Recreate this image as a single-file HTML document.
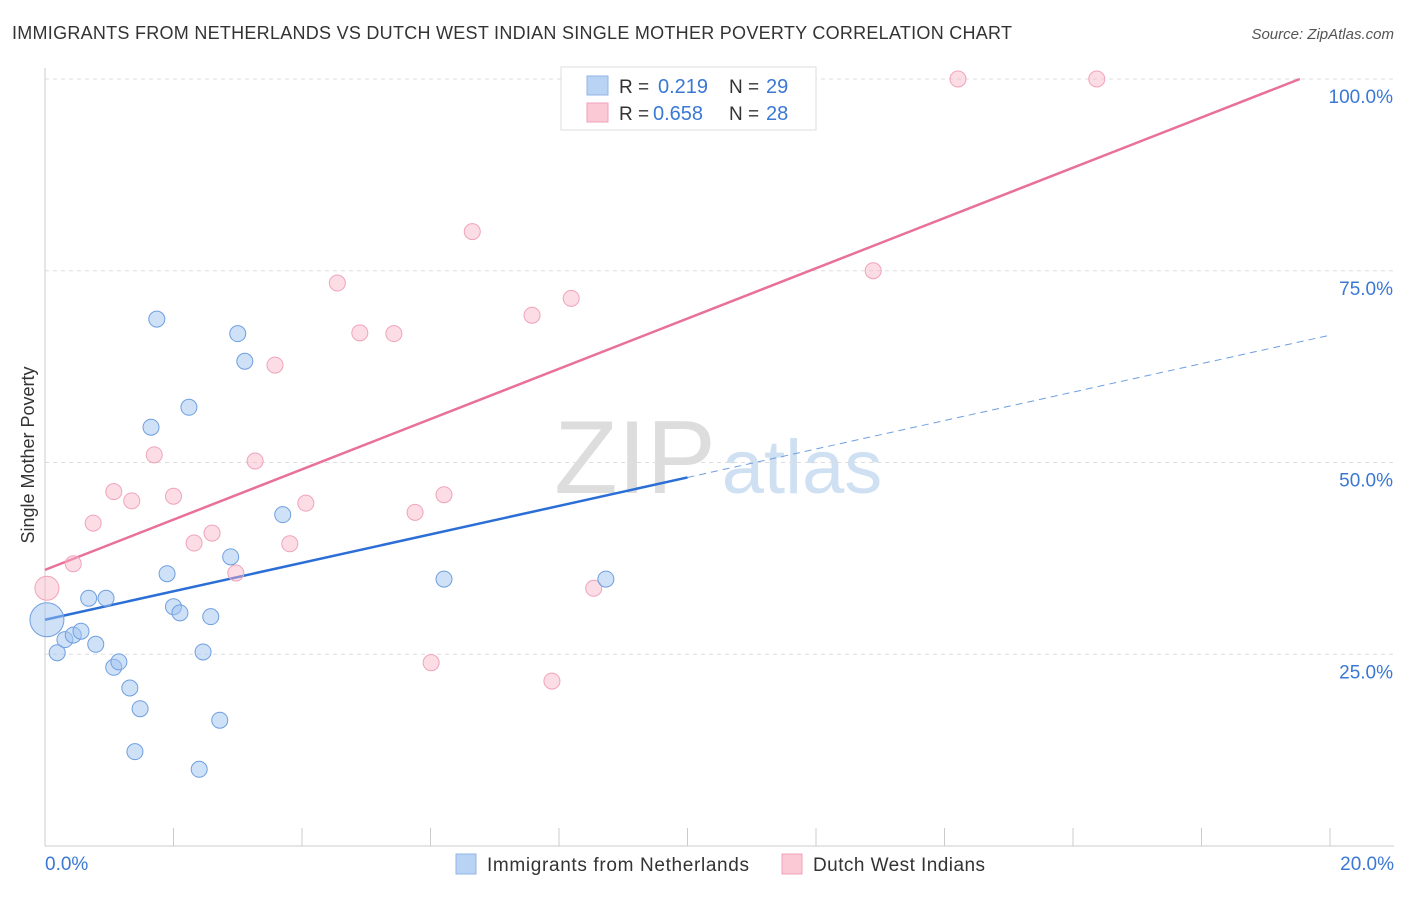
<!DOCTYPE html>
<html><head><meta charset="utf-8">
<style>
body{margin:0;background:#fff;font-family:"Liberation Sans",sans-serif;}
svg text{font-family:"Liberation Sans",sans-serif;}
</style></head>
<body>
<svg id="chart" width="1406" height="892" xmlns="http://www.w3.org/2000/svg">
<text x="12" y="39" font-size="18" fill="#333" textLength="1000">IMMIGRANTS FROM NETHERLANDS VS DUTCH WEST INDIAN SINGLE MOTHER POVERTY CORRELATION CHART</text>
<text x="1394" y="39" font-size="15" fill="#555" font-style="italic" text-anchor="end">Source: ZipAtlas.com</text>
<text x="34" y="455" font-size="18" fill="#333" text-anchor="middle" transform="rotate(-90 34 455)">Single Mother Poverty</text>
<g>
<text x="635" y="493" font-size="104" fill="#ddd" font-family="Liberation Serif" text-anchor="middle">ZIP</text>
<text x="802" y="493" font-size="76" fill="#cfe0f3" text-anchor="middle">atlas</text>
</g>
<g id="grid"></g>
<g id="lines"></g>
<g id="points"></g>
<g>
<rect x="561" y="67" width="255" height="63" fill="#fff" stroke="#ddd"/>
<rect x="587" y="76" width="21" height="19" fill="#b9d3f5" stroke="#8fb4e6"/>
<rect x="587" y="103" width="21" height="19" fill="#fbc8d6" stroke="#f1a2b9"/>
<text x="619" y="93" font-size="19" fill="#333">R = </text><text x="658" y="93" font-size="20" fill="#3a78d4">0.219</text>
<text x="729" y="93" font-size="19" fill="#333">N = </text><text x="766" y="93" font-size="20" fill="#3a78d4">29</text>
<text x="619" y="120" font-size="19" fill="#333">R = </text><text x="653" y="120" font-size="20" fill="#3a78d4">0.658</text>
<text x="729" y="120" font-size="19" fill="#333">N = </text><text x="766" y="120" font-size="20" fill="#3a78d4">28</text>
</g>
<g>
<rect x="456" y="854" width="20" height="20" fill="#b9d3f5" stroke="#8fb4e6"/>
<text x="487" y="871" font-size="19" fill="#333" textLength="262">Immigrants from Netherlands</text>
<rect x="782" y="854" width="20" height="20" fill="#fbc8d6" stroke="#f1a2b9"/>
<text x="813" y="871" font-size="19" fill="#333" textLength="172">Dutch West Indians</text>
</g>
</svg>
<script>
const yTicks=[25,50,75,100];
const yTickLabels=["25.0%","50.0%","75.0%","100.0%"];
const xTickLabels=["0.0%","20.0%"];
const blueX=[0.03,0.19,0.31,0.44,0.56,0.68,0.79,0.95,1.07,1.15,1.32,1.48,1.40,1.65,1.74,1.90,2.00,2.10,2.24,2.46,2.58,2.72,2.40,2.89,3.00,3.11,3.70,6.21,8.73];
const blueY=[29.5,25.2,26.9,27.5,28.0,32.3,26.3,32.3,23.3,24.0,20.6,17.9,12.3,54.6,68.7,35.5,31.2,30.4,57.2,25.3,29.9,16.4,10.0,37.7,66.8,63.2,43.2,34.8,34.8];
const pinkX=[0.03,0.44,0.75,1.07,1.35,1.70,2.00,2.32,2.60,2.97,3.27,3.58,3.81,4.06,4.55,4.90,5.43,5.76,6.01,6.21,6.65,7.58,7.89,8.19,8.54,12.89,14.21,16.37];
const pinkY=[33.6,36.8,42.1,46.2,45.0,51.0,45.6,39.5,40.8,35.6,50.2,62.7,39.4,44.7,73.4,66.9,66.8,43.5,23.9,45.8,80.1,69.2,21.5,71.4,33.6,75.0,100,100];
const blueFit=[29.5,1.855];
const pinkFit=[36.0,3.277];
const NS="http://www.w3.org/2000/svg";
const sx=v=>45+v/20*1285;
const sy=v=>846-v*7.67;
function mk(tag,attrs,parent){const e=document.createElementNS(NS,tag);for(const k in attrs)e.setAttribute(k,attrs[k]);document.getElementById(parent).appendChild(e);return e;}
yTicks.forEach((t,i)=>{
 const l=mk('line',{x1:45,x2:1394,y1:sy(t),y2:sy(t),stroke:'#ddd','stroke-dasharray':'4,4'},'grid');
 
 
 const tx=mk('text',{x:1393,y:sy(t)+24,'font-size':19,fill:'#3a78d4','text-anchor':'end'},'grid');
 tx.textContent=yTickLabels[i];
 
 
});
const ax=mk('line',{x1:45,x2:1394,y1:846,y2:846,stroke:'#ccc'},'grid');


const ay=mk('line',{x1:45,x2:45,y1:68,y2:846,stroke:'#ccc'},'grid');


for(let i=0;i<=10;i++){const t=mk('line',{x1:sx(i*2),x2:sx(i*2),y1:828,y2:846,stroke:'#ccc'},'grid');
 
 }
[[0,'start',45],[20,'end',1394]].forEach((d,i)=>{const t=mk('text',{x:d[2],y:870,'font-size':19,fill:'#3a78d4','text-anchor':d[1]},'grid');t.textContent=xTickLabels[i];
 
 });
const by=x=>blueFit[0]+blueFit[1]*x;
const bl=mk('line',{x1:sx(0),y1:sy(by(0)),x2:sx(10),y2:sy(by(10)),stroke:'#2b6fd6','stroke-width':2.5},'lines');


const bd=mk('line',{x1:sx(10),y1:sy(by(10)),x2:sx(20),y2:sy(by(20)),stroke:'#6f9fe0','stroke-width':1,'stroke-dasharray':'7,5'},'lines');


const pxEnd=(100-pinkFit[0])/pinkFit[1];
const pl=mk('line',{x1:sx(0),y1:sy(pinkFit[0]),x2:sx(pxEnd),y2:sy(100),stroke:'#e8709a','stroke-width':2.5},'lines');


pinkX.forEach((x,i)=>{const c=mk('circle',{cx:sx(x),cy:sy(pinkY[i]),r:i==0?12:8,fill:'rgba(248,180,200,0.45)',stroke:'#f0a3bb','stroke-width':1},'points');
 
 });
blueX.forEach((x,i)=>{const c=mk('circle',{cx:sx(x),cy:sy(blueY[i]),r:i==0?17:8,fill:'rgba(160,195,240,0.5)',stroke:'#6f9fe0','stroke-width':1},'points');
 
 });
</script>
</body></html>
